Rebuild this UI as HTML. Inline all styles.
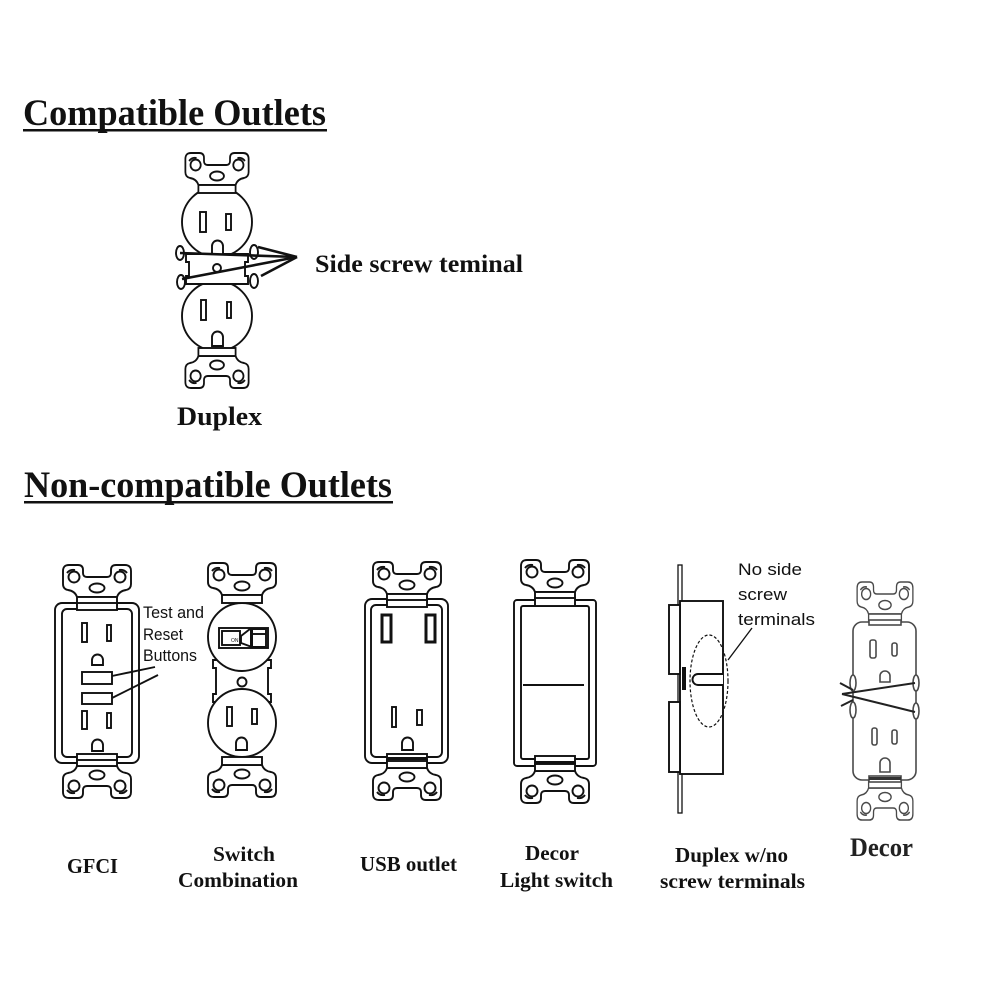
<!DOCTYPE html>
<html>
<head>
<meta charset="utf-8">
<style>
  html,body{margin:0;padding:0;background:#fff;}
  svg{display:block;}
  .s{font-family:"Liberation Serif",serif;font-weight:bold;fill:#111;}
  .a{font-family:"Liberation Sans",sans-serif;fill:#111;}
</style>
</head>
<body>
<svg width="1000" height="1000" viewBox="0 0 1000 1000" xmlns="http://www.w3.org/2000/svg">
<defs>
  <g id="ear">
    <path d="M-28,0 H-19 Q-14,0 -14,5 V8 Q-14,12 -10,12 H10 Q14,12 14,8 V5 Q14,0 19,0 H28 Q34,0 34,6 V19 Q34,24 29,25 Q22,26 20,32 H-20 Q-22,26 -29,25 Q-34,24 -34,19 V6 Q-34,0 -28,0 Z" fill="#fff"/>
    <rect x="-20" y="32" width="40" height="8" fill="#fff"/>
    <circle cx="-23" cy="12" r="5.5" fill="#fff"/>
    <circle cx="23" cy="12" r="5.5" fill="#fff"/>
    <path d="M-30,8 Q-27,4 -22,5" fill="none"/>
    <path d="M30,8 Q27,4 22,5" fill="none"/>
    <ellipse cx="0" cy="23" rx="7.5" ry="4.5" fill="#fff"/>
  </g>
</defs>

<rect width="1000" height="1000" fill="#fff"/>

<!-- Headers -->
<text class="s" x="23" y="125" font-size="37" textLength="303" lengthAdjust="spacingAndGlyphs">Compatible Outlets</text>
<rect x="23" y="129" width="304" height="2.5" fill="#111"/>
<text class="s" x="24" y="497" font-size="37" textLength="368" lengthAdjust="spacingAndGlyphs">Non-compatible Outlets</text>
<rect x="24" y="501" width="369" height="2.5" fill="#111"/>

<g stroke="#111" stroke-width="1.9" fill="none">

<!-- ================= DUPLEX (top) ================= -->
<circle cx="217" cy="222" r="35" fill="#fff"/>
<circle cx="217" cy="316" r="35" fill="#fff"/>
<path d="M186,254 H248 V262 H245 V276 H248 V284 H186 V276 H189 V262 H186 Z" fill="#fff"/>
<rect x="200" y="212" width="6" height="20" fill="#fff"/>
<rect x="226" y="214" width="5" height="16" fill="#fff"/>
<path d="M212,254 V246 A5.5,5.5 0 0 1 223,246 V254" fill="#fff"/>
<rect x="201" y="300" width="5" height="20" fill="#fff"/>
<rect x="227" y="302" width="4" height="16" fill="#fff"/>
<path d="M212,346 V337 A5.5,5.5 0 0 1 223,337 V346 Z" fill="#fff"/>
<circle cx="217" cy="268" r="4" fill="#fff"/>
<ellipse cx="180" cy="253" rx="4" ry="7" fill="#fff"/>
<ellipse cx="254" cy="252" rx="4" ry="7" fill="#fff"/>
<ellipse cx="181" cy="282" rx="4" ry="7" fill="#fff"/>
<ellipse cx="254" cy="281" rx="4" ry="7" fill="#fff"/>
<use href="#ear" transform="translate(217,153) scale(0.93,1)"/>
<use href="#ear" transform="translate(217,388) scale(0.93,-1)"/>
<g stroke-width="2.6" stroke="#111">
  <line x1="180" y1="253" x2="297" y2="257"/>
  <line x1="182" y1="279" x2="297" y2="257"/>
  <line x1="258" y1="247" x2="297" y2="257"/>
  <line x1="261" y1="276" x2="297" y2="257"/>
</g>

<!-- ================= GFCI ================= -->
<rect x="55" y="603" width="84" height="160" rx="7" fill="#fff"/>
<rect x="62" y="609" width="70" height="148" rx="5" fill="#fff"/>
<rect x="82" y="623" width="5" height="19" fill="#fff"/>
<rect x="107" y="625" width="4" height="16" fill="#fff"/>
<path d="M92,665 V660 A5.5,5.5 0 0 1 103,660 V665 Z" fill="#fff"/>
<rect x="82" y="672" width="30" height="12" fill="#fff"/>
<rect x="82" y="693" width="30" height="11" fill="#fff"/>
<rect x="82" y="711" width="5" height="18" fill="#fff"/>
<rect x="107" y="713" width="4" height="15" fill="#fff"/>
<path d="M92,751 V745 A5.5,5.5 0 0 1 103,745 V751 Z" fill="#fff"/>
<line x1="112" y1="676" x2="155" y2="667"/>
<line x1="112" y1="698" x2="158" y2="675"/>
<use href="#ear" transform="translate(97,565)"/>
<rect x="77" y="603" width="40" height="7" fill="#fff"/>
<use href="#ear" transform="translate(97,798) scale(1,-1)"/>
<rect x="77" y="754" width="40" height="6" fill="#fff"/>

<!-- ================= SWITCH COMBINATION ================= -->
<path d="M213,660 H271 V668 H268 V694 H271 V702 H213 V694 H216 V668 H213 Z" fill="#fff"/>
<circle cx="242" cy="637" r="34" fill="#fff"/>
<circle cx="242" cy="723" r="34" fill="#fff"/>
<rect x="219" y="628" width="49" height="20" fill="#fff"/>
<rect x="222" y="631" width="18" height="14" fill="#fff"/>
<path d="M241,636 L250,629 H266 V647 H252 L241,643 Z" fill="#fff"/>
<rect x="250" y="629" width="3" height="18" fill="#111" stroke="none"/>
<line x1="253" y1="634" x2="266" y2="634"/>
<text x="231" y="642" font-family="Liberation Sans,sans-serif" font-size="5" fill="#111" stroke="none">ON</text>
<circle cx="242" cy="682" r="4.5" fill="#fff"/>
<rect x="227" y="707" width="5" height="19" fill="#fff"/>
<rect x="252" y="709" width="5" height="15" fill="#fff"/>
<path d="M236,750 V743 A5.5,5.5 0 0 1 247,743 V750 Z" fill="#fff"/>
<use href="#ear" transform="translate(242,563)"/>
<use href="#ear" transform="translate(242,797) scale(1,-1)"/>

<!-- ================= USB OUTLET ================= -->
<rect x="365" y="599" width="83" height="164" rx="7" fill="#fff"/>
<rect x="371" y="605" width="71" height="152" rx="5" fill="#fff"/>
<rect x="382" y="615" width="9" height="27" fill="#fff" stroke-width="3"/>
<rect x="426" y="615" width="9" height="27" fill="#fff" stroke-width="3"/>
<rect x="392" y="707" width="4" height="20" fill="#fff"/>
<rect x="417" y="710" width="5" height="15" fill="#fff"/>
<path d="M402,750 V743 A5.5,5.5 0 0 1 413,743 V750 Z" fill="#fff"/>
<use href="#ear" transform="translate(407,562)"/>
<rect x="387" y="600" width="40" height="7" fill="#fff"/>
<use href="#ear" transform="translate(407,800) scale(1,-1)"/>
<rect x="387" y="754" width="40" height="7" fill="#fff"/>
<rect x="387" y="757" width="40" height="3" fill="#111" stroke="none"/>

<!-- ================= DECOR LIGHT SWITCH ================= -->
<rect x="514" y="600" width="82" height="166" rx="3" fill="#fff"/>
<rect x="521" y="606" width="68" height="153" rx="2" fill="#fff"/>
<line x1="523" y1="685" x2="584" y2="685"/>
<use href="#ear" transform="translate(555,560)"/>
<rect x="535" y="598" width="40" height="8" fill="#fff"/>
<use href="#ear" transform="translate(555,803) scale(1,-1)"/>
<rect x="535" y="756" width="40" height="8" fill="#fff"/>
<rect x="535" y="761" width="40" height="3" fill="#111" stroke="none"/>

<!-- ================= DUPLEX W/NO SCREW (side) ================= -->
<rect x="678" y="565" width="4" height="248" fill="#fff" stroke-width="1.3"/>
<rect x="680" y="601" width="43" height="173" fill="#fff"/>
<rect x="669" y="605" width="11" height="69" fill="#fff"/>
<rect x="669" y="702" width="11" height="70" fill="#fff"/>
<rect x="682" y="667" width="4" height="23" fill="#111" stroke="none"/>
<path d="M723,674 H698 A5.5,5.5 0 0 0 698,685 H723" fill="#fff"/>
<ellipse cx="709" cy="681" rx="19" ry="46" stroke-width="1.2" stroke-dasharray="3,2"/>
<line x1="728" y1="660" x2="752" y2="628" stroke-width="1.3"/>

<!-- ================= DECOR (right) ================= -->
<g stroke="#4a4a4a" stroke-width="1.6">
  <rect x="853" y="622" width="63" height="158" rx="9" fill="#fff"/>
  <rect x="870" y="640" width="6" height="18" rx="2" fill="#fff"/>
  <rect x="892" y="643" width="5" height="13" rx="2" fill="#fff"/>
  <path d="M880,682 V676 A5,5 0 0 1 890,676 V682 Z" fill="#fff"/>
  <rect x="872" y="728" width="5" height="17" rx="2" fill="#fff"/>
  <rect x="892" y="730" width="5" height="14" rx="2" fill="#fff"/>
  <path d="M880,772 V763 A5,5 0 0 1 890,763 V772 Z" fill="#fff"/>
  <ellipse cx="853" cy="683" rx="3" ry="8" fill="#fff"/>
  <ellipse cx="853" cy="710" rx="3" ry="8" fill="#fff"/>
  <ellipse cx="916" cy="683" rx="3" ry="8" fill="#fff"/>
  <ellipse cx="916" cy="711" rx="3" ry="8" fill="#fff"/>
  <use href="#ear" transform="translate(885,582) scale(0.82,1)"/>
  <rect x="869" y="620" width="32" height="5" fill="#fff"/>
  <use href="#ear" transform="translate(885,820) scale(0.82,-1)"/>
  <rect x="869" y="776" width="32" height="6" fill="#fff"/>
  <rect x="869" y="777" width="32" height="3" fill="#333" stroke="none"/>
  <g stroke="#222" stroke-width="2">
    <line x1="842" y1="694" x2="915" y2="683"/>
    <line x1="842" y1="694" x2="915" y2="712"/>
    <line x1="853" y1="690" x2="840" y2="683"/>
    <line x1="853" y1="700" x2="841" y2="706"/>
  </g>
</g>
</g>

<!-- Labels -->
<text class="s" x="315" y="272" font-size="25" textLength="208" lengthAdjust="spacingAndGlyphs">Side screw teminal</text>
<text class="s" x="177" y="425" font-size="26" textLength="85" lengthAdjust="spacingAndGlyphs">Duplex</text>

<text class="s" x="67" y="873" font-size="21" textLength="51" lengthAdjust="spacingAndGlyphs">GFCI</text>
<text class="s" x="213" y="861" font-size="21" textLength="62" lengthAdjust="spacingAndGlyphs">Switch</text>
<text class="s" x="178" y="887" font-size="21" textLength="120" lengthAdjust="spacingAndGlyphs">Combination</text>
<text class="s" x="360" y="871" font-size="21" textLength="97" lengthAdjust="spacingAndGlyphs">USB outlet</text>
<text class="s" x="525" y="860" font-size="21" textLength="54" lengthAdjust="spacingAndGlyphs">Decor</text>
<text class="s" x="500" y="887" font-size="21" textLength="113" lengthAdjust="spacingAndGlyphs">Light switch</text>
<text class="s" x="675" y="862" font-size="21" textLength="113" lengthAdjust="spacingAndGlyphs">Duplex w/no</text>
<text class="s" x="660" y="888" font-size="21" textLength="145" lengthAdjust="spacingAndGlyphs">screw terminals</text>
<text class="s" x="850" y="856" font-size="26" textLength="63" lengthAdjust="spacingAndGlyphs" style="fill:#222">Decor</text>

<text class="a" x="143" y="618" font-size="17" textLength="61" lengthAdjust="spacingAndGlyphs">Test and</text>
<text class="a" x="143" y="640" font-size="17" textLength="40" lengthAdjust="spacingAndGlyphs">Reset</text>
<text class="a" x="143" y="661" font-size="17" textLength="54" lengthAdjust="spacingAndGlyphs">Buttons</text>

<text class="a" x="738" y="575" font-size="17" textLength="64" lengthAdjust="spacingAndGlyphs">No side</text>
<text class="a" x="738" y="600" font-size="17" textLength="49" lengthAdjust="spacingAndGlyphs">screw</text>
<text class="a" x="738" y="625" font-size="17" textLength="77" lengthAdjust="spacingAndGlyphs">terminals</text>
</svg>
</body>
</html>
